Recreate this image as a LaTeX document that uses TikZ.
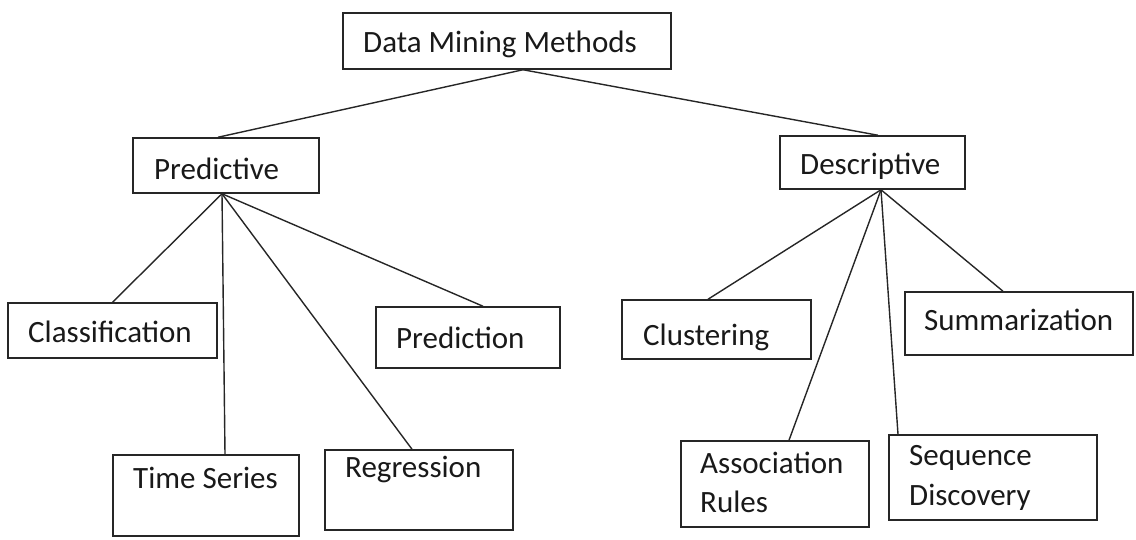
\documentclass[tikz,border=0pt]{standalone}
\usepackage{fontspec}
\setmainfont{Carlito}
\begin{document}
\begin{tikzpicture}[x=1pt,y=-1pt,
  box/.style={draw=black!85, line width=1.5pt, inner sep=0pt, fill=none},
  lbl/.style={anchor=base west, inner sep=0pt, text=black!90, font=\fontsize{31}{37}\selectfont},
  link/.style={draw=black!85, line width=1.4pt}]
\useasboundingbox (0,0) rectangle (1136,539);

% boxes (centre, width, height)
\node[box, minimum width=328, minimum height=56] (dmm)  at (507,41)  {};
\node[box, minimum width=186, minimum height=55] (pred) at (226,165.5) {};
\node[box, minimum width=185, minimum height=53] (desc) at (872.5,162.5) {};
\node[box, minimum width=209, minimum height=55] (cls)  at (112.5,330.5) {};
\node[box, minimum width=186, minimum height=81] (ts)   at (206,495.5) {};
\node[box, minimum width=188, minimum height=80] (reg)  at (419,490) {};
\node[box, minimum width=184, minimum height=61] (prd)  at (468,337.5) {};
\node[box, minimum width=189, minimum height=59] (clu)  at (716.5,329.5) {};
\node[box, minimum width=188, minimum height=86] (ar)   at (775,484) {};
\node[box, minimum width=208, minimum height=85] (sd)   at (993,477.5) {};
\node[box, minimum width=228, minimum height=63] (sum)  at (1019,323.5) {};

% labels
\node[lbl] (tdmm)  at (363,52)  {Data Mining Methods};
\node[lbl] (tpred) at (154,179) {Predictive};
\node[lbl] (tdesc) at (800,174) {Descriptive};
\node[lbl] (tcls)  at (28,342)  {Classification};
\node[lbl] (tts)   at (133,488) {Time Series};
\node[lbl] (treg)  at (345,477) {Regression};
\node[lbl] (tprd)  at (396,348) {Prediction};
\node[lbl] (tclu)  at (643,345) {Clustering};
\node[lbl] (tsum)  at (924,330) {Summarization};
\node[lbl] (tar1)  at (700,473) {Association};
\node[lbl] (tar2)  at (700,512) {Rules};
\node[lbl] (tsd1)  at (909,465) {Sequence};
\node[lbl] (tsd2)  at (909,505) {Discovery};

% connectors
\draw[link] ([xshift=16]dmm.south) -- ([xshift=-8]pred.north);
\draw[link] ([xshift=16]dmm.south) -- ([xshift=5.5]desc.north);

\draw[link] ([xshift=-4]pred.south) -- (cls.north);
\draw[link] ([xshift=-4]pred.south) -- ([xshift=19]ts.north);
\draw[link] ([xshift=-4]pred.south) -- ([xshift=-7]reg.north);
\draw[link] ([xshift=-4]pred.south) -- ([xshift=15]prd.north);

\draw[link] ([xshift=8.5]desc.south) -- ([xshift=-8.5]clu.north);
\draw[link] ([xshift=8.5]desc.south) -- ([xshift=14]ar.north);
\draw[link] ([xshift=8.5]desc.south) -- ([xshift=-95]sd.north);
\draw[link] ([xshift=8.5]desc.south) -- ([xshift=-16]sum.north);
\end{tikzpicture}
\end{document}
